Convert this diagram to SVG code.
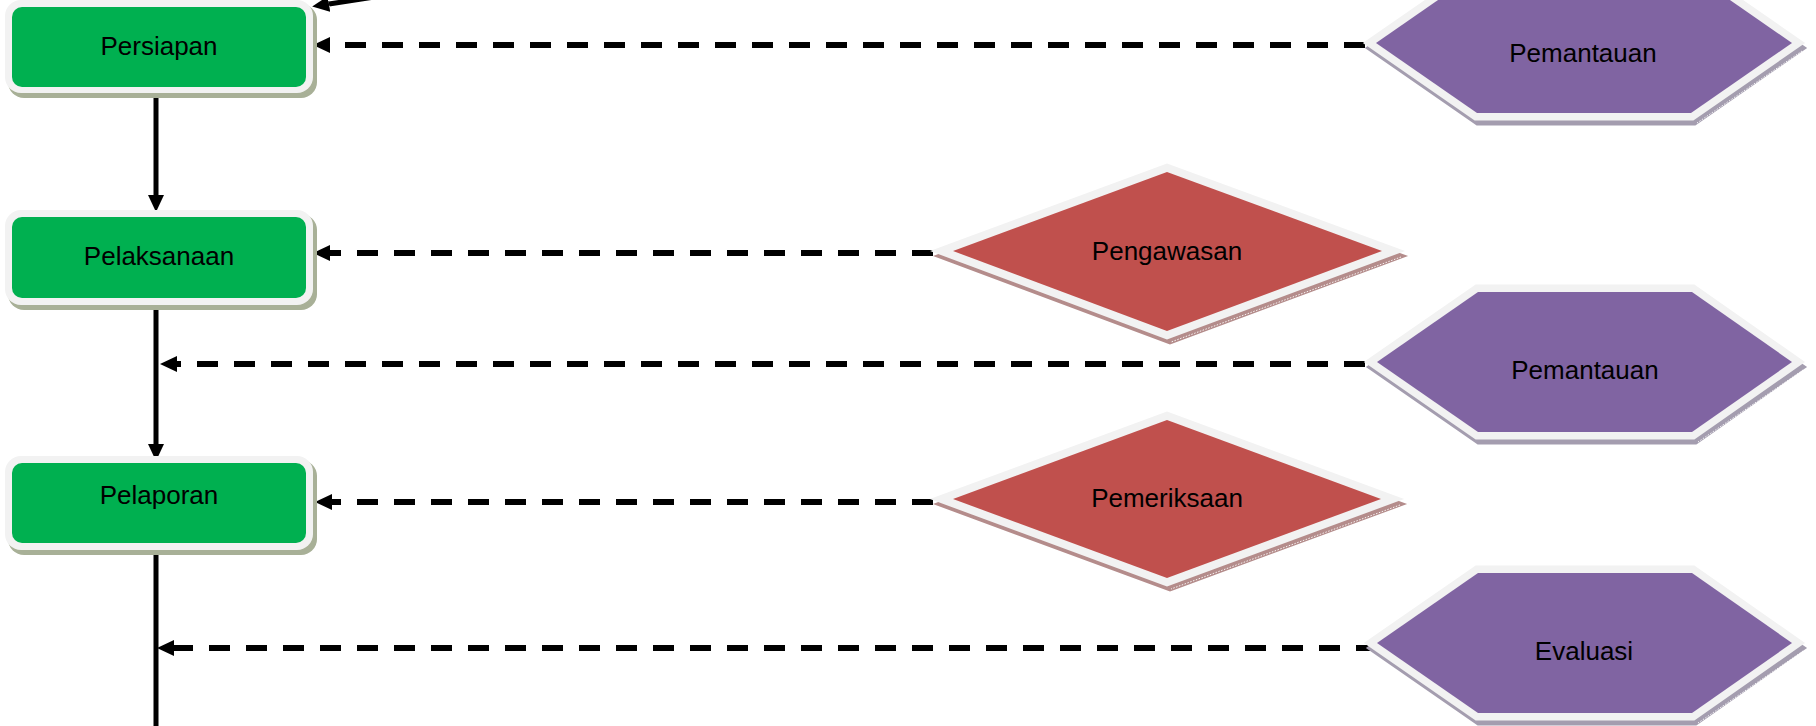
<svg xmlns="http://www.w3.org/2000/svg" width="1816" height="726" viewBox="0 0 1816 726">
  <defs>
    <marker id="head" viewBox="0 0 17 16" refX="0" refY="8" markerWidth="17" markerHeight="16" markerUnits="userSpaceOnUse" orient="auto">
      <path d="M0,0 L17,8 L0,16 Z" fill="#000"/>
    </marker>
    <style>
      .label { font-family: "Liberation Sans", Arial, sans-serif; font-size: 26px; fill: #000; text-anchor: middle; }
      .step-shadow { fill: #A8B097; }
      .step-frame { fill: #F2F2F2; }
      .step-body { fill: #00B050; }
      .check-shadow { fill: #B48C8B; stroke: #B48C8B; stroke-width: 16; stroke-linejoin: miter; }
      .check-frame { fill: #F2F2F2; stroke: #F2F2F2; stroke-width: 16; stroke-linejoin: miter; }
      .check-body { fill: #C0504D; }
      .watch-shadow { fill: #A49DAF; stroke: #A49DAF; stroke-width: 15; stroke-linejoin: miter; }
      .watch-frame { fill: #F2F2F2; stroke: #F2F2F2; stroke-width: 15; stroke-linejoin: miter; }
      .watch-body { fill: #8064A2; }
      .bevel { fill: none; stroke: #FFFFFF; stroke-width: 1; stroke-dasharray: 1.5 1.5; opacity: 0.9; }
      .flow { fill: none; stroke: #000; stroke-width: 5; }
      .feedback { fill: none; stroke: #000; stroke-width: 6; stroke-dasharray: 21 16; }
    </style>
  </defs>

  <rect width="1816" height="726" fill="#FFFFFF"/>

  <!-- connectors -->
  <g id="connectors">
    <path class="flow" d="M420,-10 L329,4" marker-end="url(#head)"/>
    <path class="flow" d="M156,93 L156,195" marker-end="url(#head)"/>
    <path class="flow" d="M156,305 L156,444" marker-end="url(#head)"/>
    <path class="flow" d="M156,550 L156,730"/>
    <path class="feedback" d="M1365,45 L330,45" marker-end="url(#head)"/>
    <path class="feedback" d="M933,253 L330,253" marker-end="url(#head)"/>
    <path class="feedback" d="M1365,364 L177,364" marker-end="url(#head)"/>
    <path class="feedback" d="M933,502 L332,502" marker-end="url(#head)"/>
    <path class="feedback" d="M1377,648 L174,648" marker-end="url(#head)"/>
  </g>

  <!-- process steps -->
  <g id="persiapan">
    <rect class="step-shadow" x="8" y="4" width="309" height="94" rx="16"/>
    <rect class="step-frame" x="5" y="0" width="308" height="93" rx="16"/>
    <rect class="step-body" x="12" y="7" width="294" height="80" rx="10"/>
    <text class="label" x="159" y="55">Persiapan</text>
  </g>

  <g id="pelaksanaan">
    <rect class="step-shadow" x="8" y="214" width="309" height="96" rx="16"/>
    <rect class="step-frame" x="5" y="210" width="308" height="95" rx="16"/>
    <rect class="step-body" x="12" y="217" width="294" height="81" rx="10"/>
    <text class="label" x="159" y="265">Pelaksanaan</text>
  </g>

  <g id="pelaporan">
    <rect class="step-shadow" x="8" y="460" width="309" height="95" rx="16"/>
    <rect class="step-frame" x="5" y="456" width="308" height="94" rx="16"/>
    <rect class="step-body" x="12" y="463" width="294" height="80" rx="10"/>
    <text class="label" x="159" y="504">Pelaporan</text>
  </g>

  <!-- control diamonds -->
  <g id="pengawasan">
    <polygon class="check-shadow" transform="translate(3,5)" points="953,251 1167,172 1382,251 1167,331"/>
    <polygon class="check-frame" points="953,251 1167,172 1382,251 1167,331"/>
    <polyline class="bevel" points="1401,257 1171,342"/>
    <polygon class="check-body" points="953,251 1167,172 1382,251 1167,331"/>
    <text class="label" x="1167" y="260">Pengawasan</text>
  </g>

  <g id="pemeriksaan">
    <polygon class="check-shadow" transform="translate(3,5)" points="953,499 1167,420 1381,499 1167,578"/>
    <polygon class="check-frame" points="953,499 1167,420 1381,499 1167,578"/>
    <polyline class="bevel" points="1400,505 1171,589"/>
    <polygon class="check-body" points="953,499 1167,420 1381,499 1167,578"/>
    <text class="label" x="1167" y="507">Pemeriksaan</text>
  </g>

  <!-- monitoring hexagons -->
  <g id="pemantauan-1">
    <polygon class="watch-shadow" transform="translate(2,5)" points="1376,43 1477,-27 1691,-27 1792,43 1691,113 1477,113"/>
    <polygon class="watch-frame" points="1376,43 1477,-27 1691,-27 1792,43 1691,113 1477,113"/>
    <polyline class="bevel" points="1802,51 1697,123"/>
    <polygon class="watch-body" points="1376,43 1477,-27 1691,-27 1792,43 1691,113 1477,113"/>
    <text class="label" x="1583" y="62">Pemantauan</text>
  </g>

  <g id="pemantauan-2">
    <polygon class="watch-shadow" transform="translate(2,5)" points="1377,362 1478,292 1692,292 1792,362 1692,432 1478,432"/>
    <polygon class="watch-frame" points="1377,362 1478,292 1692,292 1792,362 1692,432 1478,432"/>
    <polyline class="bevel" points="1803,370 1698,442"/>
    <polygon class="watch-body" points="1377,362 1478,292 1692,292 1792,362 1692,432 1478,432"/>
    <text class="label" x="1585" y="379">Pemantauan</text>
  </g>

  <g id="evaluasi">
    <polygon class="watch-shadow" transform="translate(2,5)" points="1377,643 1478,573 1692,573 1792,643 1692,713 1478,713"/>
    <polygon class="watch-frame" points="1377,643 1478,573 1692,573 1792,643 1692,713 1478,713"/>
    <polyline class="bevel" points="1803,651 1698,723"/>
    <polygon class="watch-body" points="1377,643 1478,573 1692,573 1792,643 1692,713 1478,713"/>
    <text class="label" x="1584" y="660">Evaluasi</text>
  </g>
</svg>
